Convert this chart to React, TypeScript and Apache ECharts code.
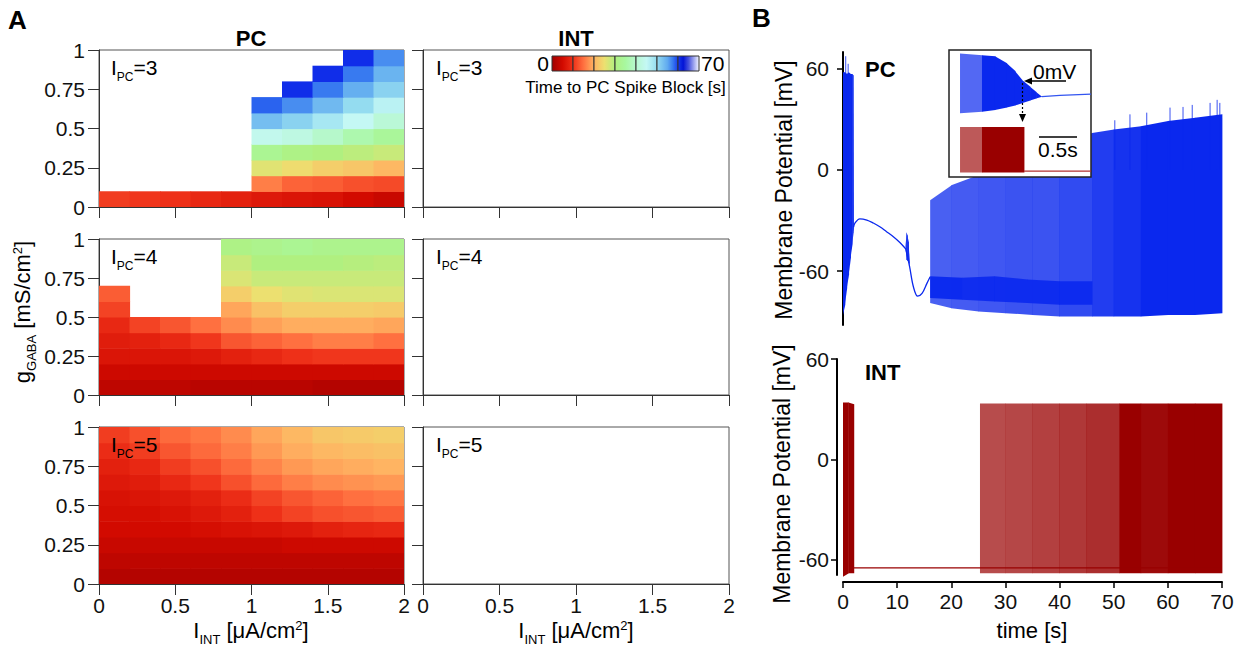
import React, { useEffect, useRef } from 'react';
import * as echarts from 'echarts';

const FONT = '"Liberation Sans", Arial, Helvetica, sans-serif';
const PC_BLUE = '#0a28ee';
const INT_RED = '#990000';

// ---------- Panel A data ----------
const iIntCellStart = [0, 0.2, 0.4, 0.6, 0.8, 1.0, 1.2, 1.4, 1.6, 1.8];
const gGabaCellStart = [0, 0.1, 0.2, 0.3, 0.4, 0.5, 0.6, 0.7, 0.8, 0.9];
const cellWidth = 0.2;
const cellHeight = 0.1;
const iPcLevels = [3, 4, 5];

// rows: g_GABA from 0 (bottom) to 0.9 (top); columns: I_INT 0 .. 1.8
const blockTimeIpc3: (number | null)[][] = [
  [11, 10.5, 10, 9, 8, 7, 6.5, 6, 5, 4],
  [null, null, null, null, null, 16, 14, 13.5, 12.5, 12],
  [null, null, null, null, null, 26, 24.5, 23, 22, 20.5],
  [null, null, null, null, null, 33, 31, 30, 29, 28],
  [null, null, null, null, null, 44, 42.5, 39.5, 36.5, 34],
  [null, null, null, null, null, 53, 51, 48, 45, 41],
  [null, null, null, null, null, 58.5, 56.5, 53.5, 50, 46],
  [null, null, null, null, null, null, 60.5, 57.5, 54.5, 51],
  [null, null, null, null, null, null, null, 60.5, 57.5, 54],
  [null, null, null, null, null, null, null, null, 60.5, 56.5],
];
const blockTimeIpc4: (number | null)[][] = [
  [3, 3, 3, 2.5, 2.5, 2.5, 2.5, 2, 2, 2],
  [4.5, 4.5, 4.5, 4.5, 4.5, 4.5, 4.5, 4.5, 4.5, 4.5],
  [6.5, 6.5, 6.5, 7, 8, 9, 10, 10.5, 10.5, 10.5],
  [7.5, 8, 9, 10.5, 13, 14, 15, 16, 16, 15],
  [9, 11.5, 13, 15, 17, 18.5, 19.5, 19.5, 19.5, 19],
  [11.5, null, null, null, 19, 21.5, 23, 23, 23, 22.5],
  [13.5, null, null, null, 23, 25, 26, 26.5, 26.5, 26.5],
  [null, null, null, null, 26.5, 28, 28, 28, 28, 28],
  [null, null, null, null, 28, 30, 30, 30, 29.5, 29],
  [null, null, null, null, 31, 32, 33, 32, 32, 32],
];
const blockTimeIpc5: (number | null)[][] = [
  [2, 2, 2, 2, 2, 2, 2, 2, 2, 2],
  [3, 3, 3, 3, 3, 3, 3, 3, 3, 3],
  [4, 4, 4, 4, 4, 4, 4.5, 4.5, 4.5, 4.5],
  [5, 5, 5, 5.5, 6, 6.5, 7, 8, 8.5, 9],
  [5.5, 5.5, 6, 7, 8, 10, 11.5, 12.5, 13, 13.5],
  [6, 6.5, 7, 8, 9.5, 11.5, 13, 14, 15, 15.5],
  [7, 7.5, 9, 10.5, 12.5, 14.5, 16, 17, 17.5, 18],
  [8, 9, 11, 12.5, 14.5, 16.5, 18, 19, 19.5, 20],
  [9.5, 11, 13, 14.5, 16, 18, 19.5, 20.5, 21, 21.5],
  [11, 12.5, 14.5, 15.5, 17, 19, 20.5, 22, 22.5, 23],
];

const colorStopValues = [0, 5, 10, 15, 20, 25, 30, 35, 40, 45, 50, 55, 58, 61, 63, 70];
const colorStopHex = [
  '#a00000', '#d20a00', '#ee3018', '#ff7040', '#ffb462', '#ece070', '#b0f080', '#a8f8a0',
  '#b8f8d0', '#c4f8f4', '#94dcf0', '#60aaf0', '#3070f0', '#0a20e8', '#0010d0', '#f4f6ff',
];
const colorbarTicks = [0, 70];

// ---------- Panel B data ----------
const pcBurstTime = [0, 0.35, 0.7, 1.05, 1.4, 1.7, 1.9, 1.96];
const pcBurstHigh = [58, 58, 57, 58, 57, 57, 56, -33];
const pcBurstLow = [-86, -80, -70, -62, -52, -44, -37, -35];

const pcRestTime = [1.95, 2.2, 3.1, 4.4, 5.6, 6.8, 8.0, 9.3, 10.5, 11.5, 11.6, 12.3, 13.0, 13.8, 14.6, 15.5, 16.1];
const pcRestV = [-34, -31.6, -29, -29.7, -31.5, -33.7, -36.5, -39.6, -43, -46.5, -47, -57.4, -69.3, -74.9, -73.3, -67.3, -63.4];

const pcSmallBurstTime = [11.55, 11.7, 11.9, 12.1, 12.3];
const pcSmallBurstHigh = [-45, -37, -39, -43, -56];
const pcSmallBurstLow = [-47, -53, -54, -54, -57];

const pcSpikeTime = [16.1, 20, 25, 30, 35, 40, 46, 50, 55, 60, 65, 70];
const pcSpikeHigh = [-18, -9, -3, 4, 10, 16, 22, 24, 26, 29, 31, 33];
const pcSpikeLow = [-79, -82, -84, -85, -86, -87, -87, -87, -87, -86, -86, -85];
const pcSpikeDensity = [0.74, 0.76, 0.78, 0.8, 0.8, 0.84, 0.9, 0.95, 1, 1, 1];

const pcBandTime = [16.1, 22, 28, 34, 40, 46];
const pcBandHigh = [-63, -64, -63, -65, -66, -66];
const pcBandLow = [-76, -77, -78, -79, -80, -80];
const pcBandDensity = [0.95, 0.9, 0.9, 0.9, 0.9];

const pcTallSpikeTime = [0.5, 0.95, 50.2, 53.0, 56.1, 60.4, 62.8, 64.5, 67.8, 69.1, 69.6];
const pcTallSpikePeak = [67.5, 63, 29.5, 33, 34, 37, 37.4, 38.6, 39.8, 41.6, 39.8];

const intBurstTime = [0, 1.0, 2.0];
const intBurstHigh = [34, 34, 33];
const intBurstLow = [-70, -68, -68];

const intBaseTime = [2.0, 70];
const intBaseV = [-64.7, -64.7];

const intSpikeTime = [25.3, 30, 35, 40, 45, 51, 55, 60, 65, 70];
const intSpikeHigh = [33.4, 33.4, 33.4, 33.4, 33.4, 33.4, 33.4, 33.4, 33.4, 33.4];
const intSpikeLow = [-68, -68, -68, -68, -68, -68, -68, -68, -68, -68];
const intSpikeDensity = [0.7, 0.72, 0.75, 0.78, 0.82, 1, 0.96, 1, 1];

const insetBlueTime = [0.145, 0.434, 0.605, 0.759, 0.868, 0.957, 1.066, 1.145, 1.22];
const insetBlueHigh = [62, 58, 56, 40, 22, 2, -14, -26, -36.5];
const insetBlueLow = [-74, -71, -67, -61, -56.5, -51.5, -45, -40.6, -36.5];
const insetBlueDensity = [0.7, 1, 1, 1, 1, 1, 1, 1];
const insetBlueTailTime = [1.22, 1.46, 1.868];
const insetBlueTailV = [-36.5, -33.5, -30.6];

const insetRedTime = [0.145, 0.434, 0.987];
const insetRedHigh = [35, 35, 35];
const insetRedLow = [-67, -67, -67];
const insetRedDensity = [0.65, 1];
const insetRedTailTime = [0.987, 1.868];
const insetRedTailV = [-64, -64];

const timeTicks = [0, 10, 20, 30, 40, 50, 60, 70];
const mvTicks = [-60, 0, 60];

// ---------- helpers ----------
function hexToRgb(h: string) {
  return [parseInt(h.slice(1, 3), 16), parseInt(h.slice(3, 5), 16), parseInt(h.slice(5, 7), 16)];
}
function colorAt(v: number) {
  if (v <= colorStopValues[0]) return colorStopHex[0];
  for (let i = 0; i < colorStopValues.length - 1; i++) {
    const a = colorStopValues[i], b = colorStopValues[i + 1];
    if (v <= b) {
      const f = (v - a) / (b - a);
      const c0 = hexToRgb(colorStopHex[i]), c1 = hexToRgb(colorStopHex[i + 1]);
      const c = c0.map((x, k) => Math.round(x + (c1[k] - x) * f));
      return `rgb(${c[0]},${c[1]},${c[2]})`;
    }
  }
  return colorStopHex[colorStopHex.length - 1];
}

function heatData(matrix: (number | null)[][]) {
  const out: number[][] = [];
  matrix.forEach((row, gi) =>
    row.forEach((v, xi) => {
      if (v !== null) out.push([iIntCellStart[xi], gGabaCellStart[gi], v]);
    })
  );
  return out;
}

function heatSeries(matrix: (number | null)[][], idx: number) {
  return {
    type: 'custom',
    coordinateSystem: 'cartesian2d',
    xAxisIndex: idx,
    yAxisIndex: idx,
    silent: true,
    clip: true,
    data: heatData(matrix),
    renderItem: (params: any, api: any) => {
      const x0 = api.value(0), y0 = api.value(1), v = api.value(2);
      const p0 = api.coord([x0, y0 + cellHeight]);
      const p1 = api.coord([x0 + cellWidth, y0]);
      return {
        type: 'rect',
        shape: { x: p0[0], y: p0[1], width: p1[0] - p0[0] + 0.6, height: p1[1] - p0[1] + 0.6 },
        style: { fill: colorAt(v) },
      };
    },
  };
}

function envelopeSeries(t: number[], low: number[], high: number[], density: number[] | null, color: string, axis: number, z: number) {
  const data: number[][] = [];
  for (let i = 0; i < t.length - 1; i++) {
    data.push([t[i], low[i], high[i], t[i + 1], low[i + 1], high[i + 1], density ? density[i] : 1]);
  }
  return {
    type: 'custom',
    coordinateSystem: 'cartesian2d',
    xAxisIndex: axis,
    yAxisIndex: axis,
    silent: true,
    clip: false,
    z,
    encode: { x: [0, 3], y: [1, 2, 4, 5] },
    data,
    renderItem: (params: any, api: any) => {
      const a = api.coord([api.value(0), api.value(1)]);
      const b = api.coord([api.value(0), api.value(2)]);
      const c = api.coord([api.value(3), api.value(5)]);
      const d = api.coord([api.value(3), api.value(4)]);
      return {
        type: 'polygon',
        shape: { points: [a, b, [c[0] + 0.4, c[1]], [d[0] + 0.4, d[1]]] },
        style: { fill: color, opacity: api.value(6) },
      };
    },
  };
}

function lineSeries(t: number[], v: number[], color: string, axis: number, z: number, smooth: number | boolean = false) {
  return {
    type: 'line',
    xAxisIndex: axis,
    yAxisIndex: axis,
    data: t.map((x, i) => [x, v[i]]),
    showSymbol: false,
    symbol: 'none',
    smooth,
    silent: true,
    z,
    lineStyle: { color, width: 1.3 },
  };
}

function spikeSeries(t: number[], peak: number[], color: string, axis: number, z: number) {
  return {
    type: 'custom',
    coordinateSystem: 'cartesian2d',
    xAxisIndex: axis,
    yAxisIndex: axis,
    silent: true,
    clip: false,
    z,
    data: t.map((x, i) => [x, peak[i]]),
    renderItem: (params: any, api: any) => {
      const top = api.coord([api.value(0), api.value(1)]);
      const bot = api.coord([api.value(0), 0]);
      return {
        type: 'line',
        shape: { x1: top[0], y1: top[1], x2: bot[0], y2: bot[1] },
        style: { stroke: color, lineWidth: 1, opacity: 0.8 },
      };
    },
  };
}

// ---------- layout ----------
const heatTops = [50, 239, 427];
const heatHeights = [157, 156, 157];
const pcLeft = 99, pcWidth = 305, intLeft = 423, intWidth = 306;

function heatXAxis(gi: number, showLabels: boolean) {
  return {
    type: 'value', gridIndex: gi, min: 0, max: 2, interval: 0.5,
    axisLine: { show: true, onZero: false, lineStyle: { color: '#333', width: 1 } },
    axisTick: { show: true, length: 11, lineStyle: { color: '#333', width: 1 } },
    axisLabel: { show: showLabels, fontSize: 21, color: '#111', margin: 11, fontFamily: FONT },
    splitLine: { show: false },
  };
}
function heatYAxis(gi: number, showLabels: boolean) {
  return {
    type: 'value', gridIndex: gi, min: 0, max: 1, interval: 0.25,
    axisLine: { show: true, onZero: false, lineStyle: { color: '#333', width: 1 } },
    axisTick: { show: true, length: 11, lineStyle: { color: '#333', width: 1 } },
    axisLabel: { show: showLabels, fontSize: 21, color: '#111', margin: 14, fontFamily: FONT },
    splitLine: { show: false },
  };
}

function txt(x: number, y: number, text: string, o: any = {}) {
  return {
    type: 'text', x, y, z: 30, rotation: o.rotation || 0,
    style: {
      text, fill: '#000', fontFamily: FONT, fontSize: o.size || 21, fontWeight: o.bold ? 'bold' : 'normal',
      align: o.align || 'left', verticalAlign: o.va || 'middle',
    },
  };
}

let measureCtx: CanvasRenderingContext2D | null = null;
function measure(text: string, size: number) {
  if (!measureCtx) measureCtx = document.createElement('canvas').getContext('2d');
  if (!measureCtx) return text.length * size * 0.55;
  measureCtx.font = `${size}px ${FONT}`;
  return measureCtx.measureText(text).width;
}

// parts: [text, 'm' | 's' | 'p']; (x, y) = anchor at bottom of main text box
function scriptText(x: number, baseline: number, parts: [string, string][], size: number, align: 'left' | 'center', rotation = 0) {
  const small = Math.round(size * 0.58);
  const sizes = parts.map(([, k]) => (k === 'm' ? size : small));
  const widths = parts.map(([t], i) => measure(t, sizes[i]));
  const total = widths.reduce((a, b) => a + b, 0);
  let cx = align === 'center' ? -total / 2 : 0;
  const children = parts.map(([t, k], i) => {
    const shift = k === 's' ? size * 0.22 : k === 'p' ? -size * 0.42 : 0;
    const el = {
      type: 'text', x: cx, y: shift, z: 30,
      style: { text: t, fill: '#000', fontFamily: FONT, fontSize: sizes[i], align: 'left', verticalAlign: 'bottom' },
    };
    cx += widths[i];
    return el;
  });
  return { type: 'group', x, y: baseline, rotation, children };
}

export default function App() {
  const ref = useRef<HTMLDivElement>(null);
  useEffect(() => {
    if (!ref.current) return;
    const chart = echarts.init(ref.current, undefined, { renderer: 'svg' });

    const grids: any[] = [];
    heatTops.forEach((top, r) => grids.push({ left: pcLeft, top, width: pcWidth, height: heatHeights[r], show: true, borderColor: '#555', borderWidth: 1, backgroundColor: 'transparent' }));
    heatTops.forEach((top, r) => grids.push({ left: intLeft, top, width: intWidth, height: heatHeights[r], show: true, borderColor: '#555', borderWidth: 1, backgroundColor: 'transparent' }));
    grids.push({ left: 843, top: 52, width: 379, height: 273 });
    grids.push({ left: 843, top: 359, width: 379, height: 216 });
    grids.push({ left: 949, top: 50, width: 142, height: 68 });
    grids.push({ left: 949, top: 122, width: 142, height: 55 });

    const xAxes: any[] = [];
    const yAxes: any[] = [];
    for (let i = 0; i < 6; i++) {
      const r = i % 3;
      xAxes.push(heatXAxis(i, r === 2));
      yAxes.push(heatYAxis(i, i < 3));
    }
    // PC trace
    xAxes.push({ type: 'value', gridIndex: 6, min: 0, max: 70, show: false });
    yAxes.push({
      type: 'value', gridIndex: 6, min: -92, max: 70, offset: 6,
      axisLine: { show: true, lineStyle: { color: '#000', width: 2 } },
      axisTick: { show: true, length: 6, customValues: mvTicks, lineStyle: { color: '#000', width: 1.5 } },
      axisLabel: { show: true, customValues: mvTicks, fontSize: 21, color: '#111', margin: 8, fontFamily: FONT },
      splitLine: { show: false },
    });
    // INT trace
    xAxes.push({
      type: 'value', gridIndex: 7, min: 0, max: 70, interval: 10, offset: 7,
      axisLine: { show: true, onZero: false, lineStyle: { color: '#000', width: 2 } },
      axisTick: { show: true, length: 6, customValues: timeTicks, lineStyle: { color: '#000', width: 1.5 } },
      axisLabel: { show: true, customValues: timeTicks, fontSize: 21, color: '#111', margin: 9, fontFamily: FONT },
      splitLine: { show: false },
    });
    yAxes.push({
      type: 'value', gridIndex: 7, min: -69, max: 60, offset: 6,
      axisLine: { show: true, onZero: false, lineStyle: { color: '#000', width: 2 } },
      axisTick: { show: true, length: 6, customValues: mvTicks, lineStyle: { color: '#000', width: 1.5 } },
      axisLabel: { show: true, customValues: mvTicks, fontSize: 21, color: '#111', margin: 8, fontFamily: FONT },
      splitLine: { show: false },
    });
    // insets
    xAxes.push({ type: 'value', gridIndex: 8, min: 0, max: 1.868, show: false });
    yAxes.push({ type: 'value', gridIndex: 8, min: -85, max: 70, show: false });
    xAxes.push({ type: 'value', gridIndex: 9, min: 0, max: 1.868, show: false });
    yAxes.push({ type: 'value', gridIndex: 9, min: -77, max: 46, show: false });

    const series: any[] = [
      heatSeries(blockTimeIpc3, 0),
      heatSeries(blockTimeIpc4, 1),
      heatSeries(blockTimeIpc5, 2),
      // PC trace
      envelopeSeries(pcBurstTime, pcBurstLow, pcBurstHigh, null, PC_BLUE, 6, 2),
      lineSeries(pcRestTime, pcRestV, PC_BLUE, 6, 2, 0.35),
      envelopeSeries(pcSmallBurstTime, pcSmallBurstLow, pcSmallBurstHigh, null, PC_BLUE, 6, 2),
      envelopeSeries(pcSpikeTime, pcSpikeLow, pcSpikeHigh, pcSpikeDensity, PC_BLUE, 6, 2),
      envelopeSeries(pcBandTime, pcBandLow, pcBandHigh, pcBandDensity, PC_BLUE, 6, 2),
      spikeSeries(pcTallSpikeTime, pcTallSpikePeak, PC_BLUE, 6, 2),
      // INT trace
      lineSeries(intBaseTime, intBaseV, INT_RED, 7, 2),
      envelopeSeries(intBurstTime, intBurstLow, intBurstHigh, null, INT_RED, 7, 2),
      envelopeSeries(intSpikeTime, intSpikeLow, intSpikeHigh, intSpikeDensity, INT_RED, 7, 2),
      // inset
      envelopeSeries(insetBlueTime, insetBlueLow, insetBlueHigh, insetBlueDensity, PC_BLUE, 8, 12),
      lineSeries(insetBlueTailTime, insetBlueTailV, '#3355f0', 8, 12),
      envelopeSeries(insetRedTime, insetRedLow, insetRedHigh, insetRedDensity, INT_RED, 9, 12),
      lineSeries(insetRedTailTime, insetRedTailV, '#b03030', 9, 12),
    ];

    // colorbar
    const cbLeft = 552, cbTop = 56, cbSeg = 21, cbH = 15;
    const colorbar: any[] = [];
    for (let k = 0; k < 7; k++) {
      const stops = [0, 0.25, 0.5, 0.75, 1].map((f) => ({ offset: f, color: colorAt(10 * k + 10 * f) }));
      colorbar.push({
        type: 'rect', z: 30,
        shape: { x: cbLeft + k * cbSeg, y: cbTop, width: cbSeg, height: cbH },
        style: { fill: new echarts.graphic.LinearGradient(0, 0, 1, 0, stops), stroke: '#333', lineWidth: 1 },
      });
    }

    const xTitleParts: [string, string][] = [['I', 'm'], ['INT', 's'], [' [μA/cm', 'm'], ['2', 'p'], [']', 'm']];
    const yTitleParts: [string, string][] = [['g', 'm'], ['GABA', 's'], [' [mS/cm', 'm'], ['2', 'p'], [']', 'm']];

    const graphics: any[] = [
      txt(8, 20, 'A', { size: 26, bold: true }),
      txt(752, 18, 'B', { size: 26, bold: true }),
      txt(251, 38, 'PC', { size: 22, bold: true, align: 'center' }),
      txt(576, 38, 'INT', { size: 22, bold: true, align: 'center' }),
      ...iPcLevels.flatMap((lvl, r) => [
        scriptText(pcLeft + 12, heatTops[r] + 28, [['I', 'm'], ['PC', 's'], [`=${lvl}`, 'm']], 21, 'left'),
        scriptText(intLeft + 13, heatTops[r] + 28, [['I', 'm'], ['PC', 's'], [`=${lvl}`, 'm']], 21, 'left'),
      ]),
      ...colorbar,
      txt(cbLeft - 3, cbTop + cbH / 2, String(colorbarTicks[0]), { align: 'right' }),
      txt(cbLeft + 7 * cbSeg + 2, cbTop + cbH / 2, String(colorbarTicks[1]), { align: 'left' }),
      txt(cbLeft + 3.5 * cbSeg, 87, 'Time to PC Spike Block [s]', { size: 17, align: 'center' }),
      scriptText(33, 312, yTitleParts, 22, 'center', Math.PI / 2),
      scriptText(251, 641, xTitleParts, 22, 'center'),
      scriptText(576, 641, xTitleParts, 22, 'center'),
      // panel B
      txt(784, 190, 'Membrane Potential [mV]', { size: 23, align: 'center', rotation: Math.PI / 2 }),
      txt(782, 474, 'Membrane Potential [mV]', { size: 23, align: 'center', rotation: Math.PI / 2 }),
      txt(1032, 630, 'time [s]', { size: 22, align: 'center' }),
      txt(865, 69, 'PC', { size: 22, bold: true }),
      txt(865, 372, 'INT', { size: 22, bold: true }),
      // inset box
      {
        type: 'rect', z: 5,
        shape: { x: 949, y: 50, width: 142, height: 127 },
        style: { fill: '#fff', stroke: '#222', lineWidth: 1.5 },
      },
      txt(1033, 71, '0mV', { size: 21 }),
      { type: 'line', z: 30, shape: { x1: 1029, y1: 81, x2: 1066, y2: 81 }, style: { stroke: '#000', lineWidth: 1.5 } },
      { type: 'polygon', z: 30, shape: { points: [[1024, 81], [1032, 77.5], [1032, 84.5]] }, style: { fill: '#000' } },
      { type: 'line', z: 30, shape: { x1: 1022.5, y1: 83, x2: 1022.5, y2: 116 }, style: { stroke: '#000', lineWidth: 1.2, lineDash: [2, 2] } },
      { type: 'polygon', z: 30, shape: { points: [[1022.5, 122], [1019, 114], [1026, 114]] }, style: { fill: '#000' } },
      { type: 'line', z: 30, shape: { x1: 1039, y1: 137, x2: 1077, y2: 137 }, style: { stroke: '#000', lineWidth: 1.5 } },
      txt(1038, 149, '0.5s', { size: 21 }),
    ];

    chart.setOption({
      animation: false,
      backgroundColor: '#fff',
      textStyle: { fontFamily: FONT },
      grid: grids,
      xAxis: xAxes,
      yAxis: yAxes,
      series,
      graphic: { elements: graphics },
    });
    return () => chart.dispose();
  }, []);
  return <div ref={ref} style={{ position: 'absolute', left: 0, top: 0, width: 1242, height: 648 }} />;
}
